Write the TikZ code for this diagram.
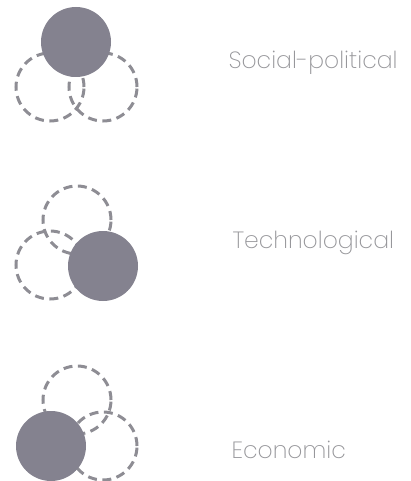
\documentclass[tikz,border=0pt]{standalone}
\usepackage{fontspec}
\setmainfont{Poppins ExtraLight}
\usepackage{tikz}
\usetikzlibrary{positioning}
\definecolor{ringgray}{RGB}{142,141,148}
\definecolor{fillgray}{RGB}{132,130,143}
\definecolor{textgray}{RGB}{150,150,154}

\begin{document}
\begin{tikzpicture}[x=1pt, y=-1pt,
    ring/.style={circle, draw=ringgray, line width=3pt, dash pattern=on 9pt off 5.5pt, minimum size=68pt, inner sep=0pt},
    full/.style={circle, fill=fillgray, minimum size=70pt, inner sep=0pt},
    label/.style={anchor=base west, text=textgray, font=\fontsize{23.5}{28}\selectfont}]
      \useasboundingbox (0,0) rectangle (410,481);
      % Social-political
      \node[ring] (1a) at (50,87) {};
      \node[ring] (1b) at (103,87) {};
      \node[full] (1c) at (76,42) {};
      \node[label] (1t) at (225,69) {Social-political};
    
      % Technological
      \node[ring] (2a) at (77,220) {};
      \node[ring] (2b) at (50,265) {};
      \node[full] (2c) at (103,266) {};
      \node[label] (2t) at (229,248) {Technological};
    
      % Economic
      \node[ring] (3a) at (77,400) {};
      \node[ring] (3b) at (103,446) {};
      \node[full] (3c) at (51,446) {};
      \node[label] (3t) at (228,458) {Economic};
    \end{tikzpicture}
\end{document}
